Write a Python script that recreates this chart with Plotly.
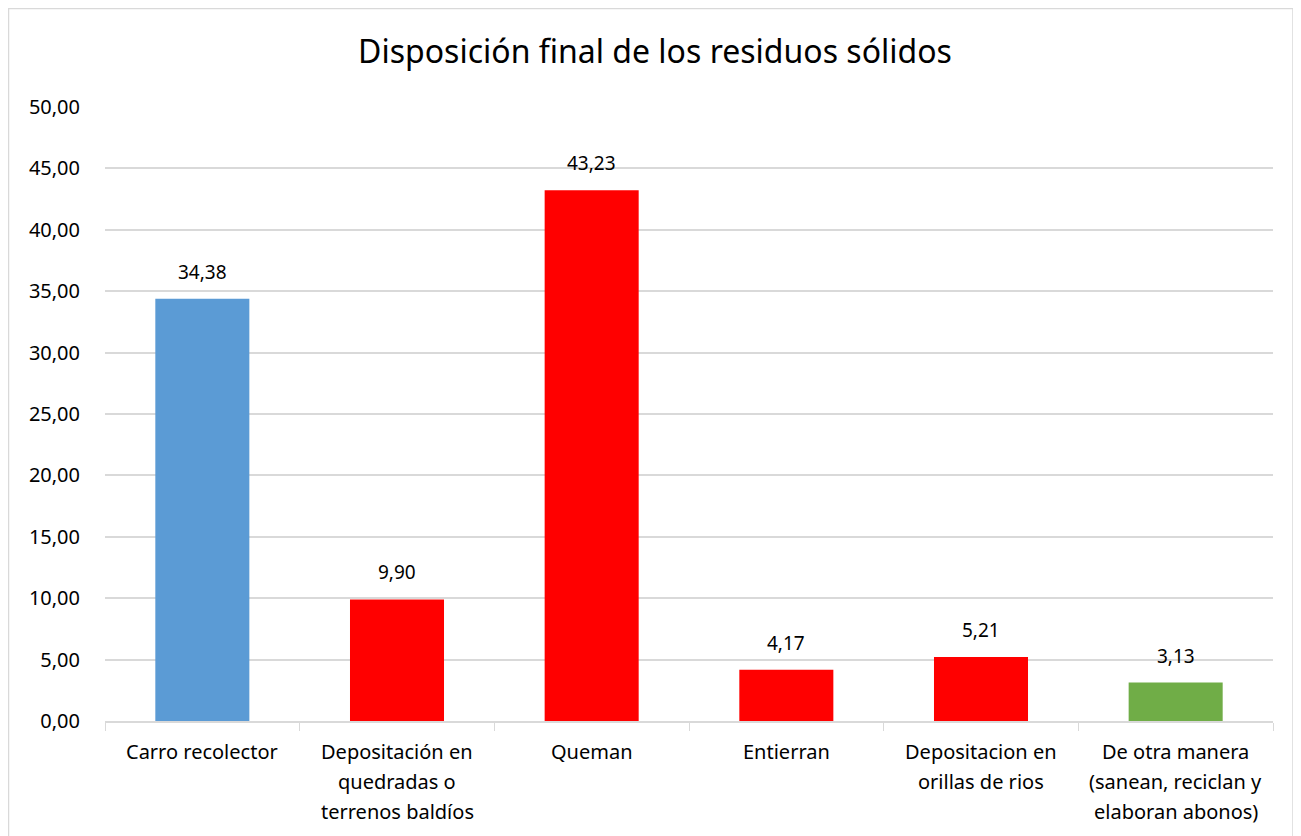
import plotly.graph_objects as go

categories = ["Carro recolector", "Depositación en<br>quedradas o<br>terrenos baldíos", "Queman",
              "Entierran", "Depositacion en<br>orillas de rios",
              "De otra manera<br>(sanean, reciclan y<br>elaboran abonos)"]
values = [34.38, 9.90, 43.23, 4.17, 5.21, 3.13]
colors = ["#5B9BD5", "#FF0000", "#FF0000", "#FF0000", "#FF0000", "#70AD47"]
title = "Disposición final de los residuos sólidos"

FONT = "Noto Sans, Open Sans, sans-serif"
OFF = 8  # page body margin
W, H = 1301 - OFF, 836 - OFF
# plot area in screen coords: x 105..1273, y 107..721
L, T = 105 - OFF, 107 - OFF
R = W - (1273 - OFF)
B = H - (721 - OFF)
pw = W - L - R
ph = H - T - B


def px(x):
    return (x - OFF - L) / pw


def py(y):
    return (H - B - (y - OFF)) / ph


fig = go.Figure(go.Bar(
    x=categories, y=values, marker=dict(color=colors, line=dict(width=0)),
    hoverinfo="x+y",
))

annotations = []
for c, v in zip(categories, values):
    annotations.append(dict(x=c, y=v, xref="x", yref="y", text=f"{v:.2f}".replace(".", ","),
                            showarrow=False, yanchor="middle", yshift=27,
                            font=dict(family=FONT, size=19, color="#000000")))
    for i, line in enumerate(c.split("<br>")):
        annotations.append(dict(x=c, y=0, xref="x", yref="paper", text=line,
                                showarrow=False, yanchor="middle", yshift=-(30 + 30 * i),
                                font=dict(family=FONT, size=20, color="#000000")))

fig.update_layout(
    width=W, height=H, autosize=False,
    margin=dict(l=L, r=R, t=T, b=B),
    plot_bgcolor="white", paper_bgcolor="white",
    separators=",.",
    bargap=0.517,
    showlegend=False,
    title=dict(text=title, xref="container", x=(655 - OFF) / W, xanchor="center",
               yref="container", y=1 - (52 - OFF) / H, yanchor="middle",
               font=dict(family=FONT, size=32, color="#000000")),
    font=dict(family=FONT, size=20, color="#000000"),
    xaxis=dict(showline=True, linecolor="#D9D9D9", linewidth=1.5,
               ticks="outside", tickson="boundaries", ticklen=8, tickcolor="#D9D9D9",
               showticklabels=False, showgrid=False),
    yaxis=dict(range=[0, 50], dtick=5, tickformat=".2f", showgrid=True,
               gridcolor="#D9D9D9", gridwidth=1.5, zeroline=False, showline=False,
               ticks="", ticklabelstandoff=24,
               tickfont=dict(family=FONT, size=20, color="#000000")),
    annotations=annotations,
    shapes=[dict(type="rect", xref="paper", yref="paper",
                 x0=px(8.5), x1=px(1293), y0=py(840), y1=py(8.5),
                 line=dict(color="#D9D9D9", width=1.5), fillcolor="rgba(0,0,0,0)", layer="below")],
)

fig.write_html("out.html")
